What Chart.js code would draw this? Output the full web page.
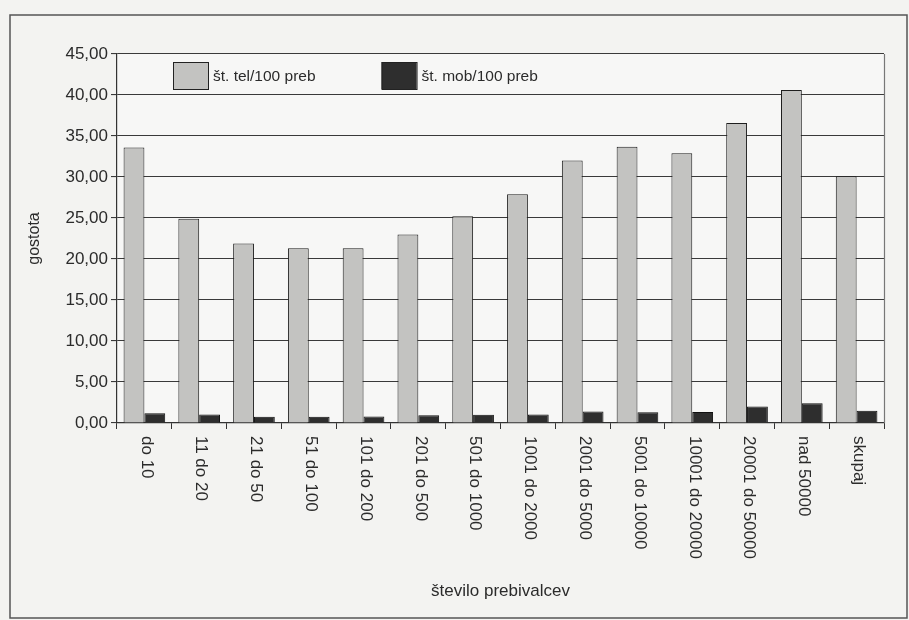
<!DOCTYPE html>
<html>
<head>
<meta charset="utf-8">
<script src="https://cdn.jsdelivr.net/npm/chart.js@4/dist/chart.umd.min.js"></script>
<style>
  html, body { margin: 0; padding: 0; background: #f3f3f1; }
  #wrap { width: 909px; height: 620px; }
</style>
</head>
<body>
<div id="wrap"><canvas id="c" width="909" height="620"></canvas></div>
<script>
// Settlement size classes (number of inhabitants)
const categories = ['do 10', '11 do 20', '21 do 50', '51 do 100', '101 do 200', '201 do 500',
  '501 do 1000', '1001 do 2000', '2001 do 5000', '5001 do 10000', '10001 do 20000',
  '20001 do 50000', 'nad 50000', 'skupaj'];
// Fixed-line telephones per 100 inhabitants
const telPer100 = [33.6, 24.9, 21.9, 21.3, 21.3, 23.0, 25.2, 27.9, 32.0, 33.7, 32.9, 36.6, 40.6, 30.1];
// Mobile phones per 100 inhabitants
const mobPer100 = [1.2, 1.05, 0.75, 0.75, 0.8, 0.95, 1.0, 1.05, 1.4, 1.3, 1.35, 2.0, 2.4, 1.5];
const seriesNames = ['št. tel/100 preb', 'št. mob/100 preb'];
const yMin = 0, yMax = 45, yStep = 5;
const yTitle = 'gostota';
const xTitle = 'število prebivalcev';

const FONT = "'Liberation Sans', Arial, sans-serif";
const INK = '#2b2b2b';

// Page frame and plot border
const framePlugin = {
  id: 'frame',
  beforeDraw(chart) {
    const ctx = chart.ctx;
    ctx.save();
    ctx.fillStyle = '#f3f3f1';
    ctx.fillRect(0, 0, chart.width, chart.height);
    ctx.fillStyle = '#f7f7f6';
    const a = chart.chartArea;
    ctx.fillRect(a.left, a.top, a.right - a.left, a.bottom - a.top);
    ctx.strokeStyle = '#555';
    ctx.lineWidth = 1.5;
    ctx.strokeRect(10, 15, 897, 603);
    ctx.restore();
  },
  afterDatasetsDraw(chart) {
    const a = chart.chartArea, ctx = chart.ctx;
    ctx.save();
    ctx.strokeStyle = '#777';
    ctx.lineWidth = 1.2;
    ctx.beginPath();
    ctx.moveTo(a.right + 0.5, a.top);
    ctx.lineTo(a.right + 0.5, a.bottom);
    ctx.stroke();
    ctx.restore();
  }
};

// Category labels turned clockwise, reading downward from the axis
const downLabels = {
  id: 'downLabels',
  afterDraw(chart) {
    const ctx = chart.ctx, xs = chart.scales.x;
    ctx.save();
    ctx.font = '17px ' + FONT;
    ctx.fillStyle = INK;
    ctx.textAlign = 'left';
    ctx.textBaseline = 'middle';
    chart.data.labels.forEach((lab, i) => {
      const x = xs.getPixelForValue(i) + 2;
      ctx.save();
      ctx.translate(x, xs.top + 13);
      ctx.rotate(Math.PI / 2);
      ctx.fillText(lab, 0, 0);
      ctx.restore();
    });
    ctx.restore();
  }
};

// Legend drawn inside the plot area, near the top
const innerLegend = {
  id: 'innerLegend',
  afterDraw(chart) {
    const ctx = chart.ctx, a = chart.chartArea;
    ctx.save();
    ctx.font = '15.5px ' + FONT;
    ctx.textBaseline = 'middle';
    let x = a.left + 56;
    const y = a.top + 8, bw = 35, bh = 27;
    chart.data.datasets.forEach((ds) => {
      ctx.fillStyle = ds.backgroundColor;
      ctx.fillRect(x, y, bw, bh);
      ctx.strokeStyle = '#222';
      ctx.lineWidth = 1;
      ctx.strokeRect(x + 0.5, y + 0.5, bw, bh);
      ctx.fillStyle = INK;
      ctx.fillText(ds.label, x + bw + 5, y + bh / 2 + 1);
      x += bw + 5 + ctx.measureText(ds.label).width + 66;
    });
    ctx.restore();
  }
};

new Chart(document.getElementById('c'), {
  type: 'bar',
  data: {
    labels: categories,
    datasets: [
      { label: seriesNames[0], data: telPer100, backgroundColor: '#c3c3c1', borderColor: '#1e1e1e', borderWidth: 1 },
      { label: seriesNames[1], data: mobPer100, backgroundColor: '#2e2e2e', borderColor: '#111', borderWidth: 1 }
    ]
  },
  options: {
    responsive: false,
    animation: false,
    layout: { padding: { left: 21, top: 54, right: 25, bottom: 14 } },
    datasets: { bar: { categoryPercentage: 0.76, barPercentage: 1.0 } },
    plugins: { legend: { display: false }, tooltip: { enabled: false } },
    scales: {
      x: {
        afterFit(scale) { scale.height = 183; },
        grid: { offset: true, drawOnChartArea: false, drawTicks: true, tickLength: 6, color: '#333', lineWidth: 1 },
        border: { display: true, color: '#333', width: 1.2 },
        ticks: { display: false, autoSkip: false },
        title: { display: true, text: xTitle, color: INK, font: { family: FONT, size: 17 }, padding: { top: 4, bottom: 4 } }
      },
      y: {
        min: yMin, max: yMax,
        afterFit(scale) { scale.width = 96; },
        grid: { color: '#3a3a3a', lineWidth: 1.1, drawTicks: true, tickLength: 6 },
        border: { display: true, color: '#333', width: 1.2 },
        ticks: {
          stepSize: yStep, color: INK, font: { family: FONT, size: 17 }, padding: 3,
          callback: (v) => v.toFixed(2).replace('.', ',')
        },
        title: { display: true, text: yTitle, color: INK, font: { family: FONT, size: 16 }, padding: { top: 4, bottom: 4 } }
      }
    }
  },
  plugins: [framePlugin, downLabels, innerLegend]
});
</script>
</body>
</html>
